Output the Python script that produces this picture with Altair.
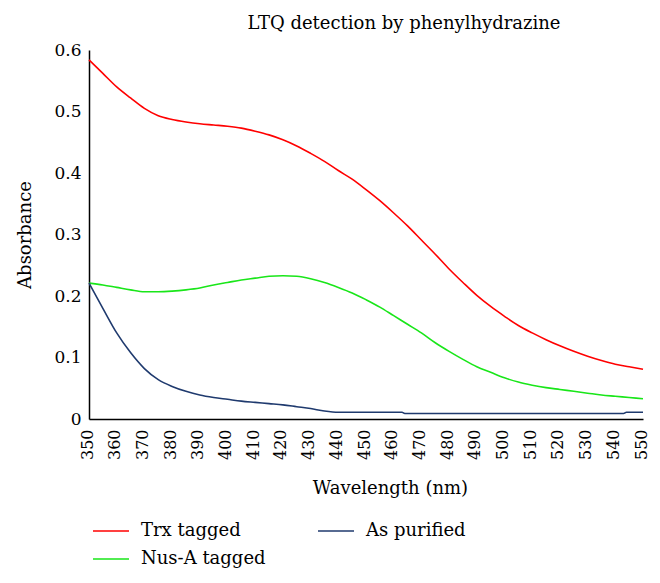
import altair as alt
import pandas as pd

wl_main = list(range(350, 551, 5))

trx = [0.584, 0.562, 0.540, 0.522, 0.505, 0.493, 0.487, 0.483, 0.480, 0.478,
       0.476, 0.473, 0.468, 0.462, 0.454, 0.444, 0.432, 0.419, 0.404, 0.390,
       0.373, 0.355, 0.335, 0.314, 0.291, 0.268, 0.244, 0.222, 0.201, 0.183,
       0.167, 0.152, 0.140, 0.129, 0.119, 0.110, 0.102, 0.095, 0.089, 0.085,
       0.081]

nusa = [0.221, 0.218, 0.214, 0.210, 0.207, 0.207, 0.208, 0.210, 0.213, 0.218,
        0.222, 0.226, 0.229, 0.232, 0.233, 0.232, 0.228, 0.222, 0.214, 0.205,
        0.194, 0.182, 0.168, 0.154, 0.140, 0.124, 0.110, 0.097, 0.085, 0.076,
        0.067, 0.060, 0.055, 0.051, 0.048, 0.045, 0.042, 0.039, 0.037, 0.035,
        0.033]

wl_pur = [350, 355, 360, 365, 370, 375, 380, 385, 390, 395, 400, 405, 410, 415,
          420, 425, 430, 435, 440, 450, 463, 464, 480, 500, 520, 543, 544, 550]
purified = [0.221, 0.180, 0.140, 0.108, 0.082, 0.064, 0.053, 0.045, 0.039, 0.035,
            0.032, 0.029, 0.027, 0.025, 0.023, 0.020, 0.017, 0.013, 0.011, 0.011,
            0.011, 0.009, 0.009, 0.009, 0.009, 0.009, 0.011, 0.011]

series_names = ["Trx tagged", "As purified", "Nus-A tagged"]
series_colors = ["#ff0000", "#1f3a6e", "#19e619"]

x_ticks = list(range(350, 551, 10))
y_ticks = [0, 0.1, 0.2, 0.3, 0.4, 0.5, 0.6]

rows = []
for w, v in zip(wl_main, trx):
    rows.append({"wl": w, "abs": v, "series": "Trx tagged"})
for w, v in zip(wl_main, nusa):
    rows.append({"wl": w, "abs": v, "series": "Nus-A tagged"})
for w, v in zip(wl_pur, purified):
    rows.append({"wl": w, "abs": v, "series": "As purified"})
df = pd.DataFrame(rows)

FONT = "DejaVu Serif"

chart = alt.Chart(df).mark_line(strokeWidth=1.6, interpolate="monotone").encode(
    x=alt.X("wl:Q",
            scale=alt.Scale(domain=[350, 550], nice=False, zero=False),
            axis=alt.Axis(values=x_ticks, title="Wavelength (nm)", labelAngle=-90,
                          ticks=False, tickSize=0, labelPadding=10, grid=False,
                          domainColor="#000000", domainWidth=1.5,
                          labelFont=FONT, labelFontSize=16, labelColor="#000000",
                          titleFont=FONT, titleFontSize=18, titleFontWeight="normal",
                          titleColor="#000000", titleX=301, titleY=69,
                          titleBaseline="middle", labelOffset=-2)),
    y=alt.Y("abs:Q",
            scale=alt.Scale(domain=[0, 0.6], nice=False),
            axis=alt.Axis(values=y_ticks, title="Absorbance", ticks=False, tickSize=0,
                          labelPadding=8, grid=False,
                          labelExpr="datum.value == 0 ? '0' : format(datum.value, '.1f')",
                          domainColor="#000000", domainWidth=1.5,
                          labelFont=FONT, labelFontSize=17, labelColor="#000000",
                          titleFont=FONT, titleFontSize=18, titleFontWeight="normal",
                          titleColor="#000000", titleX=-64, titleY=184.5,
                          titleAngle=-90, titleBaseline="middle", titleAlign="center")),
    color=alt.Color("series:N",
                    scale=alt.Scale(domain=series_names, range=series_colors),
                    sort=series_names,
                    legend=alt.Legend(title=None, orient="none", legendX=3, legendY=462,
                                      columns=2, direction="horizontal",
                                      symbolType="stroke", symbolSize=1296,
                                      symbolStrokeWidth=1.6, labelFont=FONT,
                                      labelFontSize=18, labelColor="#000000",
                                      labelOffset=11, columnPadding=48, rowPadding=0,
                                      padding=0)),
    order=alt.Order("wl:Q"),
).properties(
    width=554,
    height=369,
    title=alt.TitleParams("LTQ detection by phenylhydrazine", font=FONT, fontSize=18,
                          fontWeight="normal", color="#000000", anchor="middle",
                          dx=38, offset=8),
    autosize=alt.AutoSizeParams(type="none"),
    padding={"left": 81, "top": 42, "right": 9, "bottom": 156},
).configure_view(stroke=None)

chart.save("out.html", embed_options={"renderer": "svg", "actions": False})
